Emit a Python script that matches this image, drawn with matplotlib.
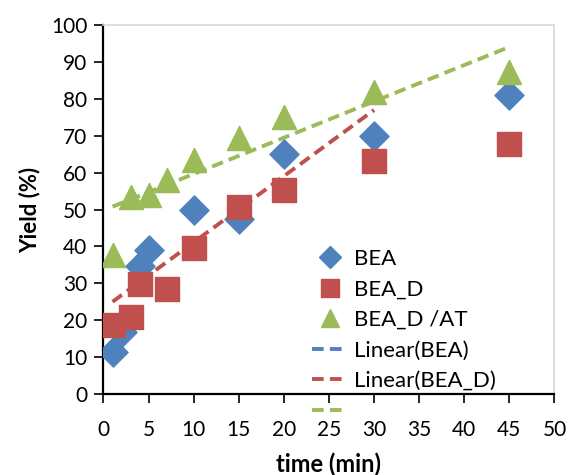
import numpy as np
import matplotlib.pyplot as plt
from matplotlib.lines import Line2D

plt.rcParams['font.family'] = ['Lato', 'DejaVu Sans']

# 数据
time_bea = [1, 2, 4, 5, 10, 15, 20, 30, 45]
yield_bea = [11.4, 16.8, 34.7, 39.0, 49.9, 47.5, 65.2, 69.9, 81.2]

time_bea_d = [1, 3, 4, 7, 10, 15, 20, 30, 45]
yield_bea_d = [18.7, 20.9, 29.8, 28.6, 39.7, 50.8, 55.4, 63.1, 67.9]

time_bea_d_at = [1, 3, 5, 7, 10, 15, 20, 30, 45]
yield_bea_d_at = [37.7, 53.3, 53.9, 58.0, 63.4, 69.3, 75.1, 81.9, 87.3]

# 趋势线端点
trend_d_x = [1, 30]
trend_d_y = [25.0, 77.0]
trend_at_x = [1, 45]
trend_at_y = [50.8, 94.1]

blue = "#4F81BD"
red = "#C0504D"
green = "#9BBB59"


def main():
    fig = plt.figure(figsize=(5.68, 4.75), dpi=100)
    ax = fig.add_axes([0.1822, 0.1705, 0.794, 0.7765])

    dash = (3, 1.6)
    ax.plot(trend_at_x, trend_at_y, color=green, lw=2.8, dashes=dash, zorder=2)
    ax.plot(trend_d_x, trend_d_y, color=red, lw=2.8, dashes=dash, zorder=2)

    ax.scatter(time_bea, yield_bea, marker="D", s=220, color=blue, zorder=3)
    ax.scatter(time_bea_d, yield_bea_d, marker="s", s=280, color=red, zorder=4)
    ax.scatter(time_bea_d_at, yield_bea_d_at, marker="^", s=300, color=green, zorder=5)

    ax.set_xlim(0, 50)
    ax.set_ylim(0, 100)
    ax.set_xticks(np.arange(0, 51, 5))
    ax.set_yticks(np.arange(0, 101, 10))

    for s in ["top", "right"]:
        ax.spines[s].set_color("#D9D9D9")
        ax.spines[s].set_linewidth(1.2)
    for s in ["left", "bottom"]:
        ax.spines[s].set_linewidth(1.6)
    ax.tick_params(axis="both", direction="out", length=6.5, width=1.2, labelsize=15)
    ax.tick_params(axis="x", pad=12)
    ax.tick_params(axis="y", pad=5)

    ax.set_xlabel("time (min)", fontsize=17, fontweight="bold", labelpad=9)
    ax.set_ylabel("Yield (%)", fontsize=16, fontweight="bold", labelpad=8)

    handles = [
        Line2D([], [], ls="none", marker="D", ms=11, color=blue),
        Line2D([], [], ls="none", marker="s", ms=13, color=red),
        Line2D([], [], ls="none", marker="^", ms=13, color=green),
        Line2D([], [], color=blue, lw=2.8, dashes=dash),
        Line2D([], [], color=red, lw=2.8, dashes=dash),
        Line2D([], [], color=green, lw=2.8, dashes=dash),
    ]
    labels = ["BEA", "BEA_D", "BEA_D /AT", "Linear(BEA)", "Linear(BEA_D)", " "]
    ax.legend(handles, labels, loc="upper left", bbox_to_anchor=(0.462, 0.393),
              frameon=False, fontsize=16, handlelength=1.6, handletextpad=0.3,
              labelspacing=0.47, borderpad=0, borderaxespad=0)

    fig.savefig("out.png", dpi=100)


if __name__ == "__main__":
    main()
